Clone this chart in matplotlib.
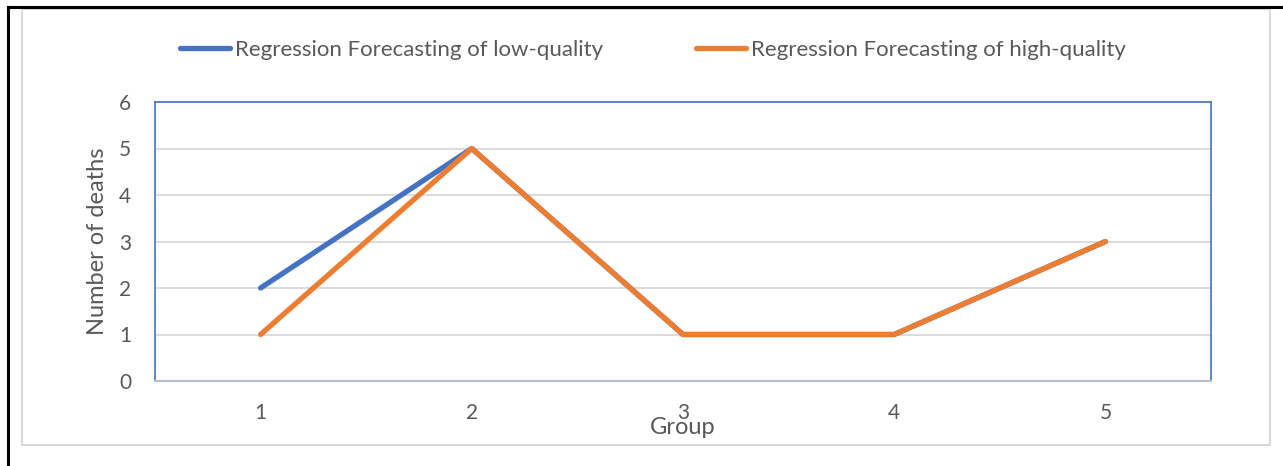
import matplotlib
matplotlib.use("Agg")
import matplotlib.pyplot as plt
from matplotlib.lines import Line2D
from matplotlib.patches import Rectangle

groups = [1, 2, 3, 4, 5]
low_quality = [2, 5, 1, 1, 3]
high_quality = [1, 5, 1, 1, 3]
series_names = ["Regression Forecasting of low-quality",
                "Regression Forecasting of high-quality"]
y_ticks = [0, 1, 2, 3, 4, 5, 6]

W, H = 1283, 466
fig = plt.figure(figsize=(W / 100, H / 100), dpi=100)
plt.rcParams['font.family'] = ['Lato', 'DejaVu Sans']

def fx(px):
    return px / W

def fy(py):
    return 1 - py / H

# outer black frame (left and top)
fig.add_artist(Line2D([fx(8), fx(8)], [fy(7), fy(466)], color='black', lw=2.2))
fig.add_artist(Line2D([fx(8), fx(1283)], [fy(7), fy(7)], color='black', lw=2.2))
# chart area gray border
fig.add_artist(Rectangle((fx(22), fy(445)), fx(1270) - fx(22), fy(9) - fy(445),
                         fill=False, edgecolor='#d9d9d9', lw=1.5))

left, right, top, bottom = 155, 1211, 102, 381
ax = fig.add_axes([fx(left), fy(bottom), fx(right) - fx(left), fy(top) - fy(bottom)])

blue = '#4472C4'
orange = '#ED7D31'
text_col = '#595959'

ax.plot(groups, low_quality, color=blue, lw=3.8, solid_capstyle='round',
        solid_joinstyle='round', label=series_names[0], zorder=3)
ax.plot(groups, high_quality, color=orange, lw=3.8, solid_capstyle='round',
        solid_joinstyle='round', label=series_names[1], zorder=4)

ax.set_xlim(0.5, 5.5)
ax.set_ylim(0, 6)
ax.set_yticks(y_ticks)
ax.set_xticks(groups)
ax.set_xticklabels([str(g) for g in groups])
ax.yaxis.grid(True, color='#d9d9d9', lw=1.3)
ax.set_axisbelow(True)
ax.tick_params(length=0, labelsize=15, colors=text_col)
ax.tick_params(axis='y', pad=17)
ax.tick_params(axis='x', pad=16)
for s in ['left', 'top', 'right']:
    ax.spines[s].set_color(blue)
    ax.spines[s].set_linewidth(1.2)
ax.spines['bottom'].set_color('#b4c0d8')
ax.spines['bottom'].set_linewidth(1.5)

ax.set_ylabel("Number of deaths", fontsize=17, color=text_col)
ax.yaxis.set_label_coords((108 - left) / (right - left), 0.5)
fig.text(fx(683), fy(427), "Group", fontsize=17, color=text_col, ha='center', va='center')

leg = fig.legend(loc='center', bbox_to_anchor=(fx(653), fy(50)), ncol=2, frameon=False,
                 fontsize=16, labelcolor=text_col, handlelength=2.25, handletextpad=0.22,
                 columnspacing=4.2)

fig.savefig("out.png", dpi=100)
